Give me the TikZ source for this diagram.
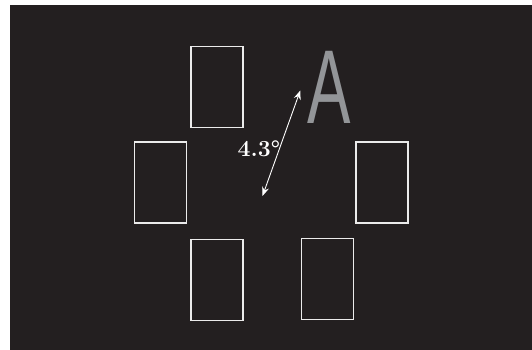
\documentclass[tikz,border=0pt]{standalone}
\usepackage{fontspec}
\usepackage{xcolor}
\usetikzlibrary{arrows.meta,positioning}
\newfontfamily\lettfont{Liberation Sans}
\definecolor{scrn}{HTML}{231F20}
\definecolor{lettgray}{HTML}{939598}

\begin{document}
\begin{tikzpicture}[x=1pt,y=-1pt,
  ph/.style={draw=white!92!black,line width=1.3pt,minimum width=52pt,minimum height=81pt,inner sep=0pt},
  ar/.style={{Stealth[length=9pt,width=7pt]}-{Stealth[length=9pt,width=7pt]},white,line width=0.9pt}]
\useasboundingbox (0,0) rectangle (532,350);
\fill[white] (0,0) rectangle (532,350);
\fill[scrn] (9.5,5.5) rectangle (532,350);
% placeholders round the fixation point
\node[ph] (top) at (217,86.7) {};
\node[ph] (left) at (160.5,182.5) {};
\node[ph] (right) at (382,182.5) {};
\node[ph] (botl) at (217,280) {};
\node[ph] (botr) at (327.5,279) {};
% target letter
\node[lettgray,inner sep=0pt,anchor=base] (targ) at (329,123.3) {\scalebox{0.62}[1]{\lettfont\fontsize{105}{105}\selectfont A}};
% eccentricity
\coordinate (fix) at (262.5,196);
\coordinate (ecc) at (300.3,90.5);
\draw[ar] (fix) -- (ecc);
\node[white,font=\fontsize{23}{23}\selectfont\bfseries,anchor=base] (deg) at (259,156) {4.3°};
\end{tikzpicture}
\end{document}
